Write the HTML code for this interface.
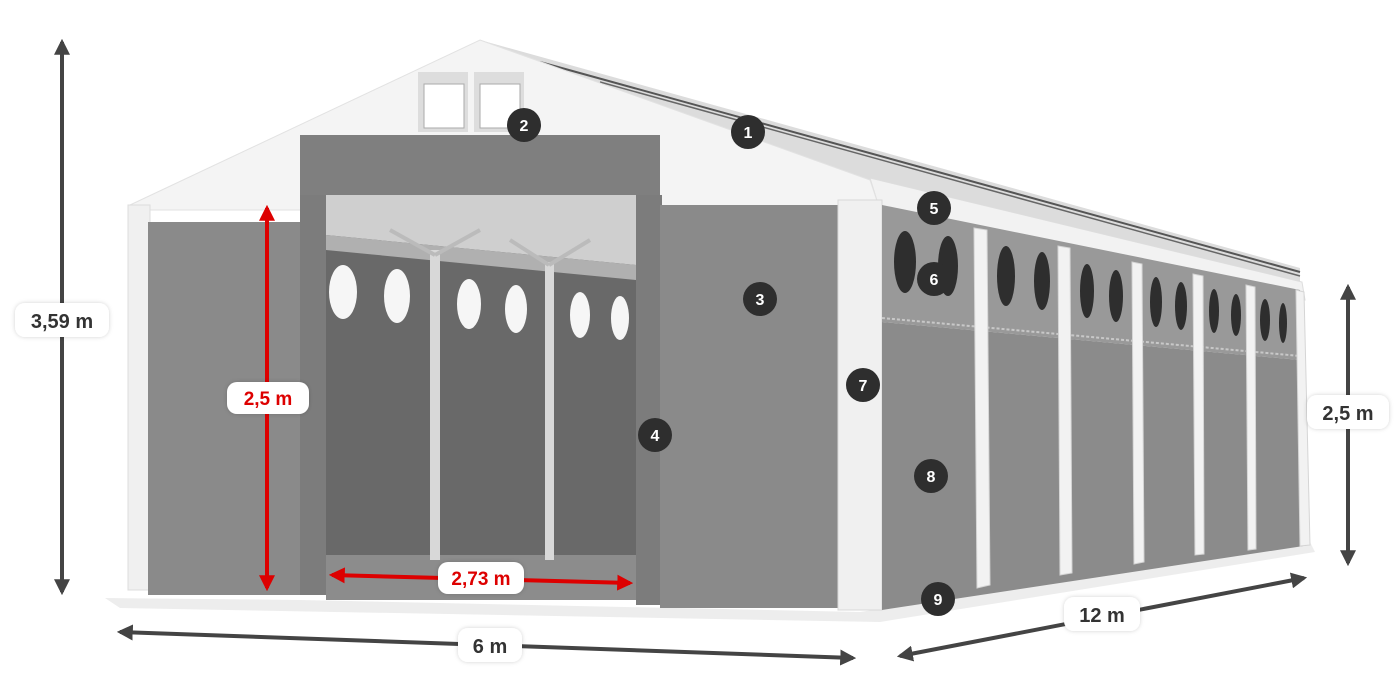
<!DOCTYPE html>
<html><head><meta charset="utf-8"><style>
html,body{margin:0;padding:0;background:#fff;width:1400px;height:700px;overflow:hidden}
svg{display:block}
text{font-family:"Liberation Sans",sans-serif;font-weight:bold}
</style></head><body>
<svg width="1400" height="700" viewBox="0 0 1400 700" xmlns="http://www.w3.org/2000/svg">
<defs>
<marker id="ah" viewBox="0 0 10 10" refX="8" refY="5" markerWidth="4" markerHeight="4" orient="auto-start-reverse"><path d="M0,0 L10,5 L0,10 z" fill="#444"/></marker>
<marker id="ar" viewBox="0 0 10 10" refX="8" refY="5" markerWidth="4" markerHeight="4" orient="auto-start-reverse"><path d="M0,0 L10,5 L0,10 z" fill="#d00"/></marker>
<filter id="sh" x="-20%" y="-30%" width="140%" height="160%"><feDropShadow dx="0" dy="0" stdDeviation="2" flood-color="#000" flood-opacity="0.18"/></filter>
</defs>
<!-- ground shadow -->
<polygon points="105,598 300,600 860,612 1310,542 1315,552 880,622 120,608" fill="#ededed"/>
<!-- roof side -->
<polygon points="480,40 1300,268 1300,285 870,180" fill="#dcdcdc"/>
<line x1="540" y1="62" x2="1300" y2="272" stroke="#555" stroke-width="2"/>
<line x1="600" y1="82" x2="1300" y2="276" stroke="#666" stroke-width="1.5"/>
<!-- eave band -->
<polygon points="870,178 1302,282 1305,300 880,210" fill="#f2f2f2" stroke="#ddd"/>
<!-- gable -->
<polygon points="480,40 870,180 880,210 130,210 130,205" fill="#f4f4f4" stroke="#e2e2e2"/>
<rect x="418" y="72" width="50" height="60" fill="#ddd"/>
<rect x="424" y="84" width="40" height="44" fill="#fff" stroke="#aaa"/>
<rect x="474" y="72" width="50" height="60" fill="#ddd"/>
<rect x="480" y="84" width="40" height="44" fill="#fff" stroke="#aaa"/>
<rect x="128" y="205" width="22" height="385" fill="#f0f0f0" stroke="#ddd"/>
<rect x="148" y="222" width="152" height="373" fill="#8a8a8a"/>
<rect x="300" y="135" width="360" height="60" fill="#7f7f7f"/>
<rect x="300" y="195" width="26" height="400" fill="#7c7c7c"/>
<rect x="636" y="195" width="26" height="410" fill="#7c7c7c"/>
<rect x="326" y="195" width="310" height="405" fill="#696969"/>
<polygon points="326,195 636,195 636,265 326,235" fill="#cfcfcf"/>
<polygon points="326,235 636,265 636,280 326,250" fill="#b0b0b0"/>
<rect x="326" y="555" width="310" height="45" fill="#8c8c8c"/>
<g fill="#f6f6f6">
<ellipse cx="343" cy="292" rx="14" ry="27"/><ellipse cx="397" cy="296" rx="13" ry="27"/>
<ellipse cx="469" cy="304" rx="12" ry="25"/><ellipse cx="516" cy="309" rx="11" ry="24"/>
<ellipse cx="580" cy="315" rx="10" ry="23"/><ellipse cx="620" cy="318" rx="9" ry="22"/>
</g>
<rect x="430" y="250" width="10" height="310" fill="#d8d8d8"/>
<rect x="545" y="262" width="9" height="298" fill="#d8d8d8"/>
<g stroke="#bbb" stroke-width="4"><line x1="435" y1="255" x2="390" y2="230"/><line x1="435" y1="255" x2="480" y2="230"/><line x1="549" y1="265" x2="510" y2="240"/><line x1="549" y1="265" x2="590" y2="240"/></g>
<rect x="660" y="205" width="180" height="403" fill="#8a8a8a"/>
<rect x="838" y="200" width="44" height="410" fill="#f0f0f0" stroke="#d8d8d8"/>
<!-- side wall -->
<polygon points="882,205 1300,290 1300,360 882,322" fill="#999"/>
<polygon points="882,322 1300,360 1310,545 882,610" fill="#8b8b8b"/>
<line x1="882" y1="318" x2="1300" y2="356" stroke="#c8c8c8" stroke-width="2" stroke-dasharray="3,2"/>
<g fill="#2e2e2e">
<ellipse cx="905" cy="262" rx="11" ry="31"/><ellipse cx="948" cy="266" rx="10" ry="30"/>
<ellipse cx="1006" cy="276" rx="9" ry="30"/><ellipse cx="1042" cy="281" rx="8" ry="29"/>
<ellipse cx="1087" cy="291" rx="7" ry="27"/><ellipse cx="1116" cy="296" rx="7" ry="26"/>
<ellipse cx="1156" cy="302" rx="6" ry="25"/><ellipse cx="1181" cy="306" rx="6" ry="24"/>
<ellipse cx="1214" cy="311" rx="5" ry="22"/><ellipse cx="1236" cy="315" rx="5" ry="21"/>
<ellipse cx="1265" cy="320" rx="5" ry="21"/><ellipse cx="1283" cy="323" rx="4" ry="20"/>
</g>
<g fill="#f2f2f2" stroke="#d5d5d5">
<polygon points="974,228 987,230 990,585 977,588"/>
<polygon points="1058,246 1070,248 1072,573 1060,575"/>
<polygon points="1132,262 1142,264 1144,562 1134,564"/>
<polygon points="1193,274 1203,276 1204,554 1195,555"/>
<polygon points="1246,285 1255,287 1256,549 1248,550"/>
<polygon points="1296,290 1304,292 1310,545 1300,546"/>
</g>
<g stroke="#444" stroke-width="4">
<line x1="62" y1="42" x2="62" y2="592" marker-start="url(#ah)" marker-end="url(#ah)"/>
<line x1="1348" y1="287" x2="1348" y2="563" marker-start="url(#ah)" marker-end="url(#ah)"/>
<line x1="120" y1="632" x2="853" y2="658" marker-start="url(#ah)" marker-end="url(#ah)"/>
<line x1="900" y1="656" x2="1304" y2="578" marker-start="url(#ah)" marker-end="url(#ah)"/>
</g>
<g stroke="#d00" stroke-width="4">
<line x1="267" y1="208" x2="267" y2="588" marker-start="url(#ar)" marker-end="url(#ar)"/>
<line x1="332" y1="575" x2="630" y2="583" marker-start="url(#ar)" marker-end="url(#ar)"/>
</g>
<g filter="url(#sh)" fill="#fff">
<rect x="15" y="303" width="94" height="34" rx="10"/>
<rect x="1307" y="395" width="82" height="34" rx="10"/>
<rect x="458" y="628" width="64" height="34" rx="10"/>
<rect x="1064" y="597" width="76" height="34" rx="10"/>
<rect x="227" y="382" width="82" height="32" rx="10"/>
<rect x="438" y="562" width="86" height="32" rx="10"/>
</g>
<g font-size="20" fill="#333" text-anchor="middle">
<text x="62" y="328">3,59 m</text>
<text x="1348" y="420">2,5 m</text>
<text x="490" y="653">6 m</text>
<text x="1102" y="622">12 m</text>
</g>
<g font-size="19" fill="#d00" text-anchor="middle">
<text x="268" y="405">2,5 m</text>
<text x="481" y="585">2,73 m</text>
</g>
<g fill="#2e2e2e">
<circle cx="748" cy="132" r="17"/><circle cx="524" cy="125" r="17"/><circle cx="760" cy="299" r="17"/>
<circle cx="655" cy="435" r="17"/><circle cx="934" cy="208" r="17"/><circle cx="934" cy="279" r="17"/>
<circle cx="863" cy="385" r="17"/><circle cx="931" cy="476" r="17"/><circle cx="938" cy="599" r="17"/>
</g>
<g font-size="16" fill="#fff" text-anchor="middle">
<text x="748" y="138">1</text><text x="524" y="131">2</text><text x="760" y="305">3</text>
<text x="655" y="441">4</text><text x="934" y="214">5</text><text x="934" y="285">6</text>
<text x="863" y="391">7</text><text x="931" y="482">8</text><text x="938" y="605">9</text>
</g>
</svg>
</body></html>
